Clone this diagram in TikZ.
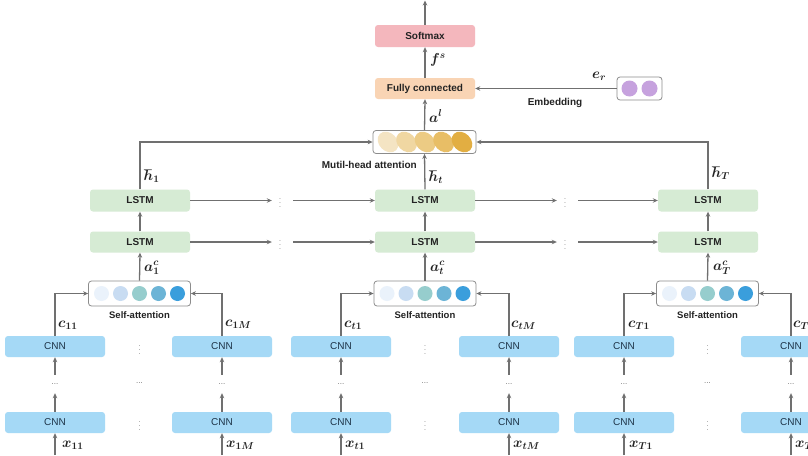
\documentclass[tikz,border=0pt]{standalone}
\usepackage{amsmath,bm}
\usepackage{fontspec}
\setmainfont{Liberation Sans}
\usetikzlibrary{arrows.meta}
\definecolor{ln}{RGB}{112,112,112}
\definecolor{bd}{RGB}{140,140,140}
\definecolor{txt}{RGB}{35,35,35}
\definecolor{softc}{RGB}{244,183,189}
\definecolor{fcc}{RGB}{249,212,180}
\definecolor{lstmc}{RGB}{214,235,212}
\definecolor{cnnc}{RGB}{165,217,246}
\definecolor{cnntxt}{RGB}{30,52,72}
\definecolor{purp}{RGB}{198,162,222}
\definecolor{ba}{RGB}{234,242,251}
\definecolor{bb}{RGB}{200,220,242}
\definecolor{bc}{RGB}{150,205,205}
\definecolor{bdd}{RGB}{108,180,214}
\definecolor{be}{RGB}{58,158,220}
\definecolor{ga}{RGB}{244,228,195}
\definecolor{gb}{RGB}{240,215,162}
\definecolor{gc}{RGB}{236,203,132}
\definecolor{gd}{RGB}{232,190,102}
\definecolor{ge}{RGB}{226,174,66}
\begin{document}
\begin{tikzpicture}[x=1pt,y=-1pt,
  box/.style={rounded corners=3pt, minimum width=100pt, minimum height=21pt, inner sep=0pt, text=txt},
  bfbox/.style={box, font=\bfseries\fontsize{10}{12}\selectfont},
  lstmbox/.style={bfbox, fill=lstmc},
  cnnbox/.style={box, fill=cnnc, text=cnntxt, font=\fontsize{10}{12}\selectfont},
  sabox/.style={rounded corners=3pt, draw=bd, line width=0.8pt, fill=white, minimum width=102pt, minimum height=25pt, inner sep=0pt},
  arr/.style={draw=ln, line width=1.3pt, -{Stealth[length=5pt,width=4.5pt]}},
  lbl/.style={font=\fontsize{14}{16}\selectfont, inner sep=0pt, anchor=west, text=txt},
  captxt/.style={font=\bfseries\fontsize{9.5}{11}\selectfont, text=txt, inner sep=0pt},
  hdots/.style={text=ln, font=\footnotesize, minimum height=18pt, inner sep=0pt},
  vdot/.style={text=ln, font=\scriptsize, minimum width=16pt, inner sep=0pt},
  blob/.style={circle, minimum size=15pt, inner sep=0pt}
]
\clip (0,0) rectangle (808,455);
\fill[white] (0,0) rectangle (808,455);

% top part
\node[bfbox, fill=softc, minimum height=22pt] (soft) at (425,36) {Softmax};
\node[bfbox, fill=fcc] (fc) at (425,88.5) {Fully connected};
\node[rounded corners=3pt, draw=bd, line width=0.8pt, fill=white, minimum width=45pt, minimum height=23pt, inner sep=0pt] (emb) at (639.5,88.5) {};
\node[circle, fill=purp, minimum size=16pt, inner sep=0pt] (e1) at (629.5,88.5) {};
\node[circle, fill=purp, minimum size=16pt, inner sep=0pt] (e2) at (649.5,88.5) {};
\coordinate (top) at (425,0.5);

% multi-head attention box
\node[rounded corners=3pt, draw=bd, line width=0.8pt, fill=white, minimum width=103pt, minimum height=23pt, inner sep=0pt] (att) at (424.5,142) {};
\foreach \cx/\cc in {388/ga,406.5/gb,425/gc,443.5/gd,462/ge}{
  \fill[\cc] (\cx,142) ellipse [x radius=11.5pt, y radius=9pt, rotate=-45];
}

% LSTM rows
\foreach \i/\cx in {1/140,2/425,3/708}{
  \node[lstmbox, minimum height=22pt] (lu\i) at (\cx,200.5) {LSTM};
  \node[lstmbox] (ll\i) at (\cx,242) {LSTM};
}
\node[vdot] (vu1) at (280,200.5) {$\vdots$};
\node[vdot] (vl1) at (280,242) {$\vdots$};
\node[vdot] (vu2) at (565,200.5) {$\vdots$};
\node[vdot] (vl2) at (565,242) {$\vdots$};

% self-attention groups
\foreach \g/\cx in {1/139.5,2/425,3/707.5}{
  \node[sabox] (sa\g) at (\cx,293.5) {};
  \foreach \k/\cc in {-2/ba,-1/bb,0/bc,1/bdd,2/be}{
    \node[blob, fill=\cc] at (\cx+\k*19,293.5) {};
  }
  \node[captxt] (sal\g) at (\cx,315) {Self-attention};
  \node[vdot] (cvu\g) at (\cx,347) {$\vdots$};
  \node[vdot] (cvl\g) at (\cx,423) {$\vdots$};
  \node[hdots] (chd\g) at (\cx,383) {...};
}

% CNN columns
\foreach \n/\cx in {a/55,b/222,c/341,d/509,e/624,f/791}{
  \node[cnnbox] (cu\n) at (\cx,346.5) {CNN};
  \node[cnnbox] (cl\n) at (\cx,422.5) {CNN};
  \node[hdots] (hd\n) at (\cx,384) {...};
  \coordinate (in\n) at (\cx,455);
  \draw[arr] (in\n) -- (cl\n.south);
  \draw[arr] (cl\n.north) -- (hd\n.south);
  \draw[arr] (hd\n.north) -- (cu\n.south);
}

% connectors CNN -> self-attention
\draw[arr] (cua.north) |- (sa1.west);
\draw[arr] (cub.north) |- (sa1.east);
\draw[arr] (cuc.north) |- (sa2.west);
\draw[arr] (cud.north) |- (sa2.east);
\draw[arr] (cue.north) |- (sa3.west);
\draw[arr] (cuf.north) |- (sa3.east);

% self-attention -> LSTM
\foreach \g in {1,2,3}{
  \draw[arr] (sa\g.north) -- (ll\g.south);
  \draw[arr] (ll\g.north) -- (lu\g.south);
}

% horizontal LSTM arrows
\draw[arr] (lu1.east) -- (vu1.west);
\draw[arr, shorten <=5pt] (vu1.east) -- (lu2.west);
\draw[arr] (ll1.east) -- (vl1.west);
\draw[arr, shorten <=5pt] (vl1.east) -- (ll2.west);
\draw[arr] (lu2.east) -- (vu2.west);
\draw[arr, shorten <=5pt] (vu2.east) -- (lu3.west);
\draw[arr] (ll2.east) -- (vl2.west);
\draw[arr, shorten <=5pt] (vl2.east) -- (ll3.west);

% LSTM -> attention
\draw[arr] (lu1.north) |- (att.west);
\draw[arr] (lu3.north) |- (att.east);
\draw[arr] (lu2.north) -- (att.south);

% top chain
\draw[arr] (att.north) -- (fc.south);
\draw[arr] (fc.north) -- (soft.south);
\draw[arr] (soft.north) -- (top);
\draw[arr] (emb.west) -- (fc.east);

% labels
\node[lbl] (lfs) at (430,60) {$\bm{f^{s}}$};
\node[lbl] (lal) at (429,116) {$\bm{a^{l}}$};
\node[lbl] (ler) at (592,76) {$\bm{e_{r}}$};
\node[captxt, font=\bfseries\fontsize{10}{12}\selectfont] (lemb) at (555,103) {Embedding};
\node[captxt, anchor=east, font=\bfseries\fontsize{10}{12}\selectfont] (lmh) at (417,165) {Mutil-head attention};
\node[lbl] (lh1) at (144,176) {$\bm{\hbar_{1}}$};
\node[lbl] (lht) at (429,177) {$\bm{\hbar_{t}}$};
\node[lbl] (lhT) at (712,173) {$\bm{\hbar_{T}}$};
\node[lbl] (la1) at (144,268) {$\bm{a_{1}^{c}}$};
\node[lbl] (lat) at (430,268) {$\bm{a_{t}^{c}}$};
\node[lbl] (laT) at (713,268) {$\bm{a_{T}^{c}}$};
\node[lbl] (lc11) at (58,325) {$\bm{c_{11}}$};
\node[lbl] (lc1M) at (225,324) {$\bm{c_{1M}}$};
\node[lbl] (lct1) at (344,325) {$\bm{c_{t1}}$};
\node[lbl] (lctM) at (511,325) {$\bm{c_{tM}}$};
\node[lbl] (lcT1) at (628,325) {$\bm{c_{T1}}$};
\node[lbl] (lcTM) at (793,325) {$\bm{c_{TM}}$};
\node[lbl] (lx11) at (62,445) {$\bm{x_{11}}$};
\node[lbl] (lx1M) at (226,445) {$\bm{x_{1M}}$};
\node[lbl] (lxt1) at (345,445) {$\bm{x_{t1}}$};
\node[lbl] (lxtM) at (513,445) {$\bm{x_{tM}}$};
\node[lbl] (lxT1) at (629,445) {$\bm{x_{T1}}$};
\node[lbl] (lxTM) at (795,445) {$\bm{x_{TM}}$};
\end{tikzpicture}
\end{document}
